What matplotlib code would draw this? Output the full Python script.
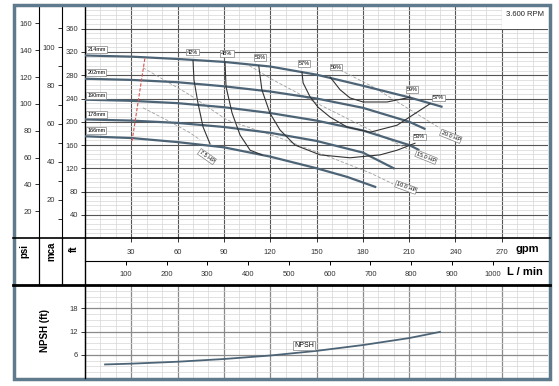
import matplotlib
matplotlib.use('Agg')
import matplotlib.pyplot as plt
from matplotlib.lines import Line2D
from matplotlib.patches import Rectangle
import numpy as np

plt.rcParams['font.family'] = ['Liberation Sans', 'DejaVu Sans']

# curvas de altura por diametro de rodete (gpm, ft)
q_214 = [0, 30, 60, 90, 120, 150, 180, 210, 231]
h_214 = [314, 312, 308, 303, 295, 281, 262, 242, 226]
q_202 = [0, 30, 60, 90, 120, 150, 180, 210, 220]
h_202 = [274, 272, 268, 261, 252, 240, 224, 200, 188]
q_190 = [0, 30, 60, 90, 120, 150, 180, 210, 216]
h_190 = [238, 236, 232, 225, 215, 202, 185, 160, 152]
q_178 = [0, 30, 60, 90, 120, 150, 180, 200]
h_178 = [204, 202, 198, 191, 181, 167, 147, 120]
q_166 = [0, 30, 60, 90, 120, 150, 170, 188]
h_166 = [175, 172, 165, 156, 140, 120, 105, 88]
diametros = ['214mm', '202mm', '190mm', '178mm', '166mm']
h_etiqueta = [324, 285, 245, 213, 185]

# curvas de rendimiento
q_42 = [70, 70.6, 73.2, 76.5, 81]
h_42 = [305, 272, 232, 191, 162]
q_48 = [90.7, 91.4, 95.3, 100.5, 107, 114.7]
h_48 = [303, 260, 215, 177, 151, 143]
q_53 = [112.6, 114.6, 119.8, 126.3, 136, 152.3, 171.7, 191.2, 202.2, 213.8]
h_53 = [296, 255, 215, 186, 160, 143, 138, 143, 151, 163]
q_57 = [140.6, 141.3, 145.8, 151, 158.8, 169.8, 184.7, 202.2, 223.6]
h_57 = [285, 267, 243, 225, 208, 191, 182, 194, 231]
q_59 = [158.8, 165.3, 171.7, 180.2, 195.7, 210.6]
h_59 = [277, 255, 241, 234, 234, 242]
rend_txt = ['42%', '48%', '53%', '57%', '59%', '59%', '57%', '53%']
rend_q = [69.4, 92, 113.4, 141.9, 162.7, 211.9, 228.8, 216.5]
rend_h = [320, 317, 310, 300, 294, 256, 241, 174]

# curvas de potencia
q_hp75 = [37.6, 55.1, 68, 74.5]
h_hp75 = [224, 200, 181, 169]
q_hp10 = [37.6, 68, 92, 126.4, 158.8, 184.7, 199.6]
h_hp10 = [293, 246, 203, 172, 139, 112, 93]
q_hp15 = [103.7, 121.8, 152.3, 184.7, 210.6]
h_hp15 = [301, 272, 229, 186, 151]
q_hp20 = [165.3, 186.6, 230]
h_hp20 = [289, 260, 189]
hp_txt = ['7.5 HP', '10.0 HP', '15.0 HP', '20.0 HP']
hp_q = [79, 208, 221, 237]
hp_h = [140, 87, 139, 175]
hp_rot = [-35, -20, -22, -22]

# limite minimo
q_lim = [30.5, 38.9]
h_lim = [167, 311]

# NPSH
q_npsh = [13, 30, 60, 90, 120, 150, 180, 210, 230]
npsh = [3.5, 3.7, 4.2, 4.9, 5.8, 7.0, 8.5, 10.3, 11.9]

gpm_ticks = [30, 60, 90, 120, 150, 180, 210, 240, 270]
lmin_ticks = [100, 200, 300, 400, 500, 600, 700, 800, 900, 1000]

W, H = 559, 386
fig = plt.figure(figsize=(W / 100, H / 100), dpi=100)


def rect(x0, y0, x1, y1):
    return [x0 / W, 1 - y1 / H, (x1 - x0) / W, (y1 - y0) / H]


def fline(x0, y0, x1, y1, **kw):
    fig.add_artist(Line2D([x0 / W, x1 / W], [1 - y0 / H, 1 - y1 / H], transform=fig.transFigure, **kw))


caja = dict(boxstyle='square,pad=0.15', fc='white', ec='#808080', lw=0.5)
azul = '#4d6476'

# grafico principal
ax = fig.add_axes(rect(85, 5.5, 548, 238))
ax.set_xlim(0, 300)
ax.set_ylim(0, 400)
ax.set_xticks(gpm_ticks)
ax.set_xticks(np.arange(10, 300, 10), minor=True)
ax.set_yticks(np.arange(40, 361, 40))
ax.set_yticks(np.arange(8, 400, 8), minor=True)
ax.grid(which='major', color='#555555', lw=0.8)
ax.grid(which='minor', color='#d6d6d6', lw=0.5)
ax.tick_params(which='minor', length=0)
ax.tick_params(which='major', direction='out', length=3, width=0.7, labelsize=5.5, pad=2, colors='#333333')
ax.tick_params(axis='x', pad=5)
for s in ['top', 'right']:
    ax.spines[s].set_visible(False)
ax.spines['left'].set_linewidth(1)
ax.spines['bottom'].set_visible(False)
ax.set_axisbelow(True)

for q, h in [(q_214, h_214), (q_202, h_202), (q_190, h_190), (q_178, h_178), (q_166, h_166)]:
    ax.plot(q, h, color=azul, lw=1.6, zorder=3)
for d, y in zip(diametros, h_etiqueta):
    ax.text(1.5, y, d, fontsize=4, ha='left', va='center', bbox=caja, zorder=5)

for q, h in [(q_42, h_42), (q_48, h_48), (q_53, h_53), (q_57, h_57), (q_59, h_59)]:
    ax.plot(q, h, color='#333333', lw=0.8, zorder=4)
for t, q, h in zip(rend_txt, rend_q, rend_h):
    ax.text(q, h, t, fontsize=4, ha='center', va='center', bbox=caja, zorder=5)

for q, h in [(q_hp75, h_hp75), (q_hp10, h_hp10), (q_hp15, h_hp15), (q_hp20, h_hp20)]:
    ax.plot(q, h, color='#a0a0a0', lw=0.6, ls=(0, (4, 2)), zorder=2)
for t, q, h, r in zip(hp_txt, hp_q, hp_h, hp_rot):
    ax.text(q, h, t, fontsize=4, ha='center', va='center', rotation=r, bbox=caja, zorder=5)

ax.plot(q_lim, h_lim, color='#d9534f', lw=0.8, ls=(0, (3, 1.5)), zorder=4)

ax.add_patch(Rectangle((270, 360), 30, 40, fc='white', ec='none', zorder=1.5))
ax.text(285, 385, '3.600 RPM', fontsize=5.5, ha='center', va='center', color='#222222', zorder=5)

# ejes psi y mca
for x0, top, mayores, menores in [(39, 400 / 2.3067, np.arange(20, 161, 20), []),
                                  (62, 400 / 3.2808, np.arange(20, 101, 20), np.arange(10, 120, 20))]:
    a = fig.add_axes(rect(x0, 5.5, x0 + 23, 238))
    a.set_ylim(0, top)
    a.set_yticks(mayores)
    a.set_yticks(menores, minor=True)
    a.set_xticks([])
    a.patch.set_visible(False)
    for s in ['top', 'right', 'bottom']:
        a.spines[s].set_visible(False)
    a.tick_params(which='both', direction='out', length=3, width=0.7, labelsize=5.5, pad=2, colors='#333333')

# banda de caudales
axl = fig.add_axes(rect(85, 261, 548, 285))
axl.set_xlim(0, 300 * 3.78541)
axl.set_ylim(0, 1)
axl.set_yticks([])
axl.xaxis.set_ticks_position('top')
axl.set_xticks(lmin_ticks)
axl.tick_params(axis='x', direction='in', length=3, width=0.7, labeltop=False, labelbottom=False)
for s in ['left', 'right', 'bottom']:
    axl.spines[s].set_visible(False)
axl.spines['top'].set_linewidth(0.8)
axl.patch.set_visible(False)
for v in lmin_ticks:
    axl.text(v, 0.45, str(v), fontsize=5.5, ha='center', va='center', color='#333333')
fig.text(516 / W, 1 - 249 / H, 'gpm', fontsize=8, fontweight='bold', va='center', ha='left')
fig.text(507 / W, 1 - 272 / H, 'L / min', fontsize=8, fontweight='bold', va='center', ha='left')

fig.text(24 / W, 1 - 251 / H, 'psi', fontsize=7, fontweight='bold', rotation=90, ha='center', va='center')
fig.text(51 / W, 1 - 251 / H, 'mca', fontsize=7, fontweight='bold', rotation=90, ha='center', va='center')
fig.text(74 / W, 1 - 249 / H, 'ft', fontsize=7, fontweight='bold', rotation=90, ha='center', va='center')

# NPSH
axn = fig.add_axes(rect(85, 285, 548, 378))
axn.set_xlim(0, 300)
axn.set_ylim(0, 24)
axn.set_xticks(np.arange(30, 300, 30))
axn.set_xticks(np.arange(10, 300, 10), minor=True)
axn.set_yticks([6, 12, 18])
axn.set_yticks(np.arange(1.5, 24, 1.5), minor=True)
axn.grid(which='major', color='#8a8a8a', lw=0.9)
axn.grid(which='minor', color='#d6d6d6', lw=0.5)
axn.tick_params(which='minor', length=0)
axn.tick_params(axis='x', length=0, labelbottom=False)
axn.tick_params(axis='y', direction='out', length=3, width=0.7, labelsize=5.5, pad=2, colors='#333333')
for s in ['top', 'right', 'bottom']:
    axn.spines[s].set_visible(False)
axn.set_axisbelow(True)
axn.plot(q_npsh, npsh, color=azul, lw=1.3)
axn.text(142, 8.5, 'NPSH', fontsize=5, ha='center', va='center', bbox=caja)
fig.text(45 / W, 1 - 330 / H, 'NPSH (ft)', fontsize=7, fontweight='bold', rotation=90, ha='center', va='center')

# lineas de separacion y marco
fline(13, 238, 550, 238, color='black', lw=1.2)
fline(13, 285, 550, 285, color='black', lw=2)
fline(39, 238, 39, 285, color='black', lw=0.9)
fline(62, 238, 62, 285, color='black', lw=0.9)
fline(85, 238, 85, 378, color='black', lw=1)
fig.add_artist(Rectangle((13.5 / W, 1 - 379 / H), 536.5 / W, 374 / H, transform=fig.transFigure,
                         fill=False, ec='#5f7a8c', lw=2.5))

fig.savefig('out.png', dpi=100)
